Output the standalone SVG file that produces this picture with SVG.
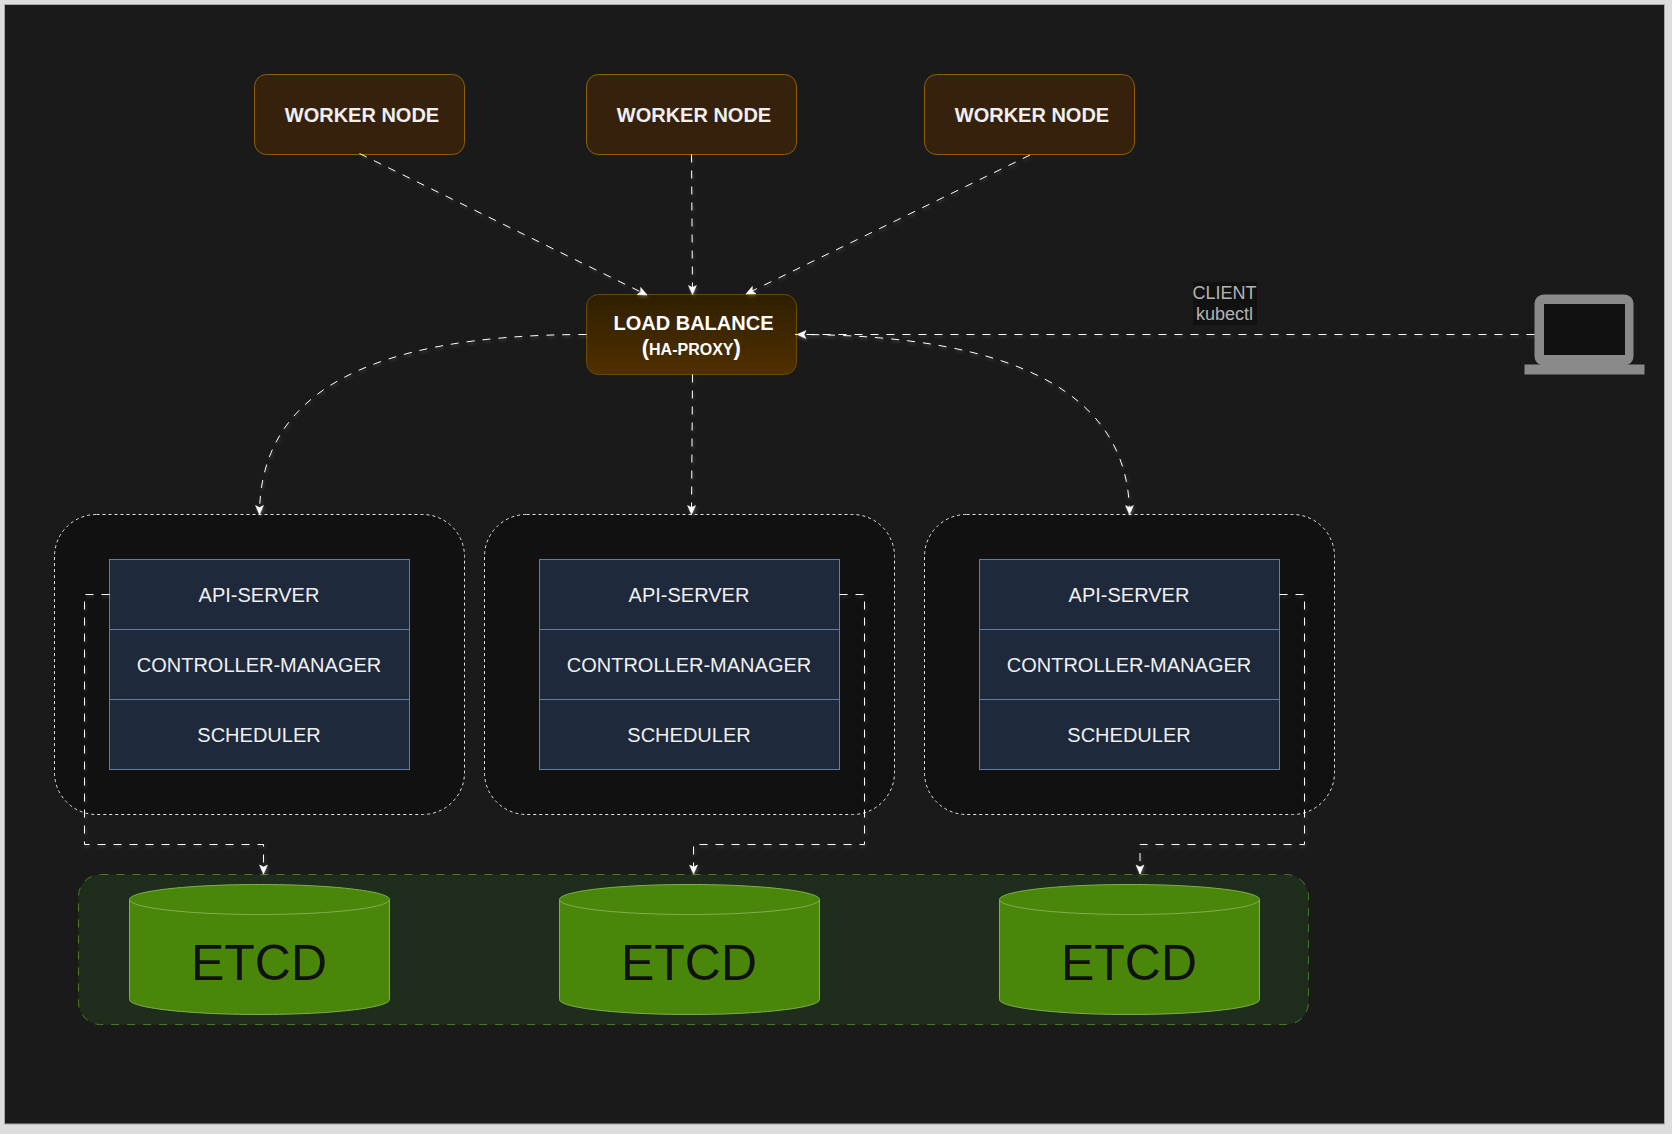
<svg xmlns="http://www.w3.org/2000/svg" width="1672" height="1134" viewBox="0 0 1672 1134">
<style>
text{font-family:"Liberation Sans",Arial,sans-serif;text-anchor:middle}
.worker{fill:#36210d;stroke:#8f5f00;stroke-width:1}
.wt{font-size:20px;font-weight:bold;fill:#f0f0f0}
.master{fill:#111111;stroke:#e4e4e4;stroke-width:1;stroke-dasharray:3 3}
.row{fill:#1e293b;stroke:#5d7ea8;stroke-width:1}
.rt{font-size:20px;fill:#f0f0f0}
.cyl{fill:#4a860a;stroke:#7fb04f;stroke-width:1}
.et{font-size:50px;fill:#111111}
.cn{fill:none;stroke:#ffffff;stroke-width:1;stroke-dasharray:8 8;marker-end:url(#arr)}
</style>
<defs>
<linearGradient id="lb" x1="0" y1="0" x2="0" y2="1"><stop offset="0" stop-color="#2e1f00"/><stop offset="1" stop-color="#503000"/></linearGradient>
<marker id="arr" markerUnits="userSpaceOnUse" markerWidth="11" markerHeight="11" refX="10" refY="5.5" orient="auto" viewBox="0 0 11 11"><path d="M10 5.5 L1 1.5 L3 5.5 L1 9.5 Z" fill="#ffffff" stroke="#ffffff" stroke-width="0.5"/></marker>
<filter id="glow" filterUnits="userSpaceOnUse" x="0" y="0" width="1672" height="1134"><feDropShadow dx="1" dy="2" stdDeviation="1.5" flood-color="#ffffff" flood-opacity="0.22"/></filter>
</defs>
<rect width="1672" height="1134" fill="#dddddd"/>
<rect x="4.5" y="4.5" width="1660" height="1119.5" fill="#1a1a1a" stroke="#a8a8a8" stroke-width="1"/>

<g id="worker-1"><rect class="worker" x="254.5" y="74.5" width="210" height="80" rx="12"/><text class="wt" x="362" y="122">WORKER NODE</text></g>
<g id="worker-2"><rect class="worker" x="586.5" y="74.5" width="210" height="80" rx="12"/><text class="wt" x="694" y="122">WORKER NODE</text></g>
<g id="worker-3"><rect class="worker" x="924.5" y="74.5" width="210" height="80" rx="12"/><text class="wt" x="1032" y="122">WORKER NODE</text></g>
<g id="load-balance"><rect x="586.5" y="294.5" width="210" height="80" rx="12" fill="url(#lb)" stroke="#6b4a00"/>
<text class="wt" x="693.5" y="330" style="fill:#fff">LOAD BALANCE</text>
<text x="691.3" y="354.5" font-size="22" font-weight="bold" fill="#ffffff">(<tspan font-size="16">HA-PROXY</tspan>)</text></g>

<g id="client"><rect x="1193" y="282" width="64" height="43" fill="#111111"/>
<text x="1224.5" y="299" font-size="18" fill="#b3b3b3">CLIENT</text><text x="1224.5" y="320" font-size="18" fill="#b3b3b3">kubectl</text>
<rect x="1534.5" y="294.5" width="99" height="71" rx="9" fill="#8a8a8a"/><rect x="1544" y="304" width="81" height="51" fill="#111111"/><rect x="1524.5" y="364.5" width="120" height="10" fill="#8a8a8a"/></g>

<g id="master-1"><rect class="master" x="54.5" y="514.5" width="410" height="300" rx="42"/>
<rect class="row" x="109.5" y="559.5" width="300" height="70"/><text class="rt" x="259" y="602">API-SERVER</text>
<rect class="row" x="109.5" y="629.5" width="300" height="70"/><text class="rt" x="259" y="672">CONTROLLER-MANAGER</text>
<rect class="row" x="109.5" y="699.5" width="300" height="70"/><text class="rt" x="259" y="742">SCHEDULER</text></g>
<g id="master-2"><rect class="master" x="484.5" y="514.5" width="410" height="300" rx="42"/>
<rect class="row" x="539.5" y="559.5" width="300" height="70"/><text class="rt" x="689" y="602">API-SERVER</text>
<rect class="row" x="539.5" y="629.5" width="300" height="70"/><text class="rt" x="689" y="672">CONTROLLER-MANAGER</text>
<rect class="row" x="539.5" y="699.5" width="300" height="70"/><text class="rt" x="689" y="742">SCHEDULER</text></g>
<g id="master-3"><rect class="master" x="924.5" y="514.5" width="410" height="300" rx="42"/>
<rect class="row" x="979.5" y="559.5" width="300" height="70"/><text class="rt" x="1129" y="602">API-SERVER</text>
<rect class="row" x="979.5" y="629.5" width="300" height="70"/><text class="rt" x="1129" y="672">CONTROLLER-MANAGER</text>
<rect class="row" x="979.5" y="699.5" width="300" height="70"/><text class="rt" x="1129" y="742">SCHEDULER</text></g>

<g id="etcd-group"><rect x="78.5" y="874.5" width="1230" height="150" rx="22" fill="#1e2d1c" stroke="#4a7a1e" stroke-dasharray="8 8"/></g>
<g id="etcd-1"><path class="cyl" d="M129.5 899.5C129.5 891.2 187.7 884.5 259.5 884.5S389.5 891.2 389.5 899.5V999.5C389.5 1007.8 331.3 1014.5 259.5 1014.5S129.5 1007.8 129.5 999.5Z"/><path class="cyl" d="M129.5 899.5C129.5 907.8 187.7 914.5 259.5 914.5S389.5 907.8 389.5 899.5" style="fill:none"/><text class="et" x="259" y="980">ETCD</text></g>
<g id="etcd-2"><path class="cyl" d="M559.5 899.5C559.5 891.2 617.7 884.5 689.5 884.5S819.5 891.2 819.5 899.5V999.5C819.5 1007.8 761.3 1014.5 689.5 1014.5S559.5 1007.8 559.5 999.5Z"/><path class="cyl" d="M559.5 899.5C559.5 907.8 617.7 914.5 689.5 914.5S819.5 907.8 819.5 899.5" style="fill:none"/><text class="et" x="689" y="980">ETCD</text></g>
<g id="etcd-3"><path class="cyl" d="M999.5 899.5C999.5 891.2 1057.7 884.5 1129.5 884.5S1259.5 891.2 1259.5 899.5V999.5C1259.5 1007.8 1201.3 1014.5 1129.5 1014.5S999.5 1007.8 999.5 999.5Z"/><path class="cyl" d="M999.5 899.5C999.5 907.8 1057.7 914.5 1129.5 914.5S1259.5 907.8 1259.5 899.5" style="fill:none"/><text class="et" x="1129" y="980">ETCD</text></g>

<g id="connectors" filter="url(#glow)">
<path class="cn" d="M359.5 153.5L647 295"/>
<path class="cn" d="M691.5 154.5L692.5 294.5"/>
<path class="cn" d="M1030 155L746 294"/>
<path class="cn" d="M1534.5 334.5H797"/>
<path class="cn" d="M586.5 334.5C365 334.5 259.5 395 259.5 514.5"/>
<path class="cn" d="M692.5 374.5L691.5 514.5"/>
<path class="cn" d="M795 334.5C1018 334.5 1129.5 395 1129.5 514.5"/>
<path class="cn" d="M109.5 594.5H84.5V844.5H263.5V874"/>
<path class="cn" d="M839.5 594.5H864.5V844.5H693.5V874"/>
<path class="cn" d="M1279.5 594.5H1304.5V844.5H1140V874"/>
</g>
</svg>
